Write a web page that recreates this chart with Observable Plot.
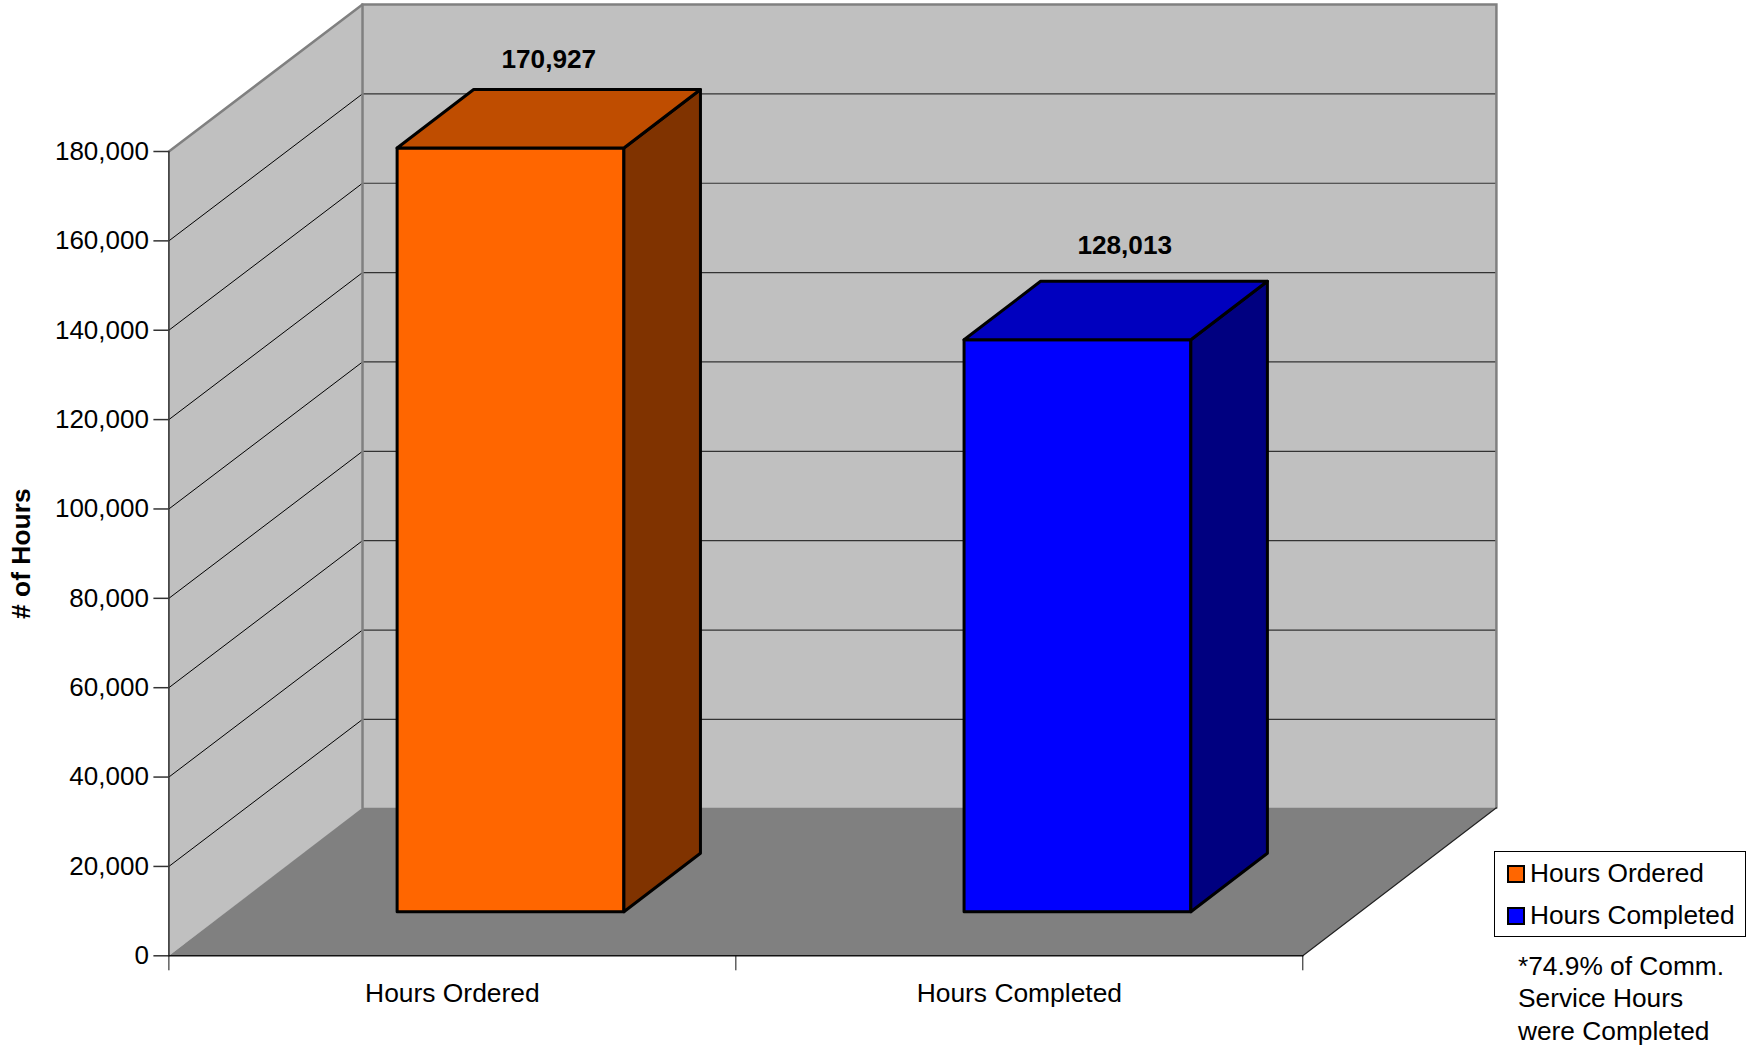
<!DOCTYPE html>
<html>
<head>
<meta charset="utf-8">
<script src="https://cdn.jsdelivr.net/npm/d3@7"></script>
<script src="https://cdn.jsdelivr.net/npm/@observablehq/plot@0.6"></script>
<style>
  html, body { margin: 0; padding: 0; background: #fff; }
  #chart { position: relative; width: 1747px; height: 1045px; overflow: hidden; font-family: "Liberation Sans", Arial, sans-serif; color: #000; }
  #chart svg { display: block; }
  #legend { position: absolute; left: 1494px; top: 851px; width: 250px; height: 84px; border: 1px solid #000; background: #fff; box-sizing: content-box; font-size: 26.3px; }
  .item { position: absolute; left: 12px; white-space: nowrap; line-height: 30px; height: 30px; }
  .item i { position: absolute; left: 0; top: 5px; width: 14px; height: 14px; border: 2px solid #000; }
  .item span { position: absolute; left: 23px; top: -2px; }
  #note { position: absolute; left: 1518px; top: 949.5px; font-size: 26.3px; line-height: 32.7px; white-space: nowrap; }
</style>
</head>
<body>
<div id="chart"></div>
<script>
const categories = ["Hours Ordered", "Hours Completed"];
const hours = [170927, 128013];
const frontColors = ["#FF6600", "#0000FF"];
const topColors = ["#BF4D00", "#0000BF"];
const sideColors = ["#803300", "#000080"];
const yTicks = [0, 20000, 40000, 60000, 80000, 100000, 120000, 140000, 160000, 180000];
const yGrid = yTicks.slice(1);
const noteLines = ["*74.9% of Comm.", "Service Hours", "were Completed"];

// Oblique projection: depth z in 0..1 shifts a point along x and y in data units.
const DX = 0.3415, DY = 33122, DY_WALL = 32900;
const YMAX = 180000;
const project = (x, v, z) => ({x: x + DX * z, y: v + DY * z});
const wall = (x, v, z) => ({x: x + DX * z, y: v + DY_WALL * z});
const BAR_X0 = 0.3009, BAR_W = 0.4, Z0 = 0.2976, Z1 = 0.693;

const face = (pts, fill, stroke, strokeWidth) =>
  Plot.line(pts, {x: "x", y: "y", fill, stroke, strokeWidth, curve: "linear-closed",
    strokeLinejoin: "round"});
const edge = (pts, stroke, strokeWidth) =>
  Plot.line(pts, {x: "x", y: "y", stroke, strokeWidth, strokeLinejoin: "miter", strokeMiterlimit: 4});

const barMarks = hours.flatMap((v, i) => {
  const x0 = i + BAR_X0, x1 = x0 + BAR_W;
  return [
    face([project(x0, 0, Z0), project(x1, 0, Z0), project(x1, v, Z0), project(x0, v, Z0)], frontColors[i], "#000", 3),
    face([project(x1, 0, Z0), project(x1, 0, Z1), project(x1, v, Z1), project(x1, v, Z0)], sideColors[i], "#000", 3),
    face([project(x0, v, Z0), project(x1, v, Z0), project(x1, v, Z1), project(x0, v, Z1)], topColors[i], "#000", 3)
  ];
});

const labelShift = [{dx: 0, dy: -21}, {dx: 9, dy: -27}];
const labelMarks = hours.map((v, i) => {
  const top = project(i + BAR_X0 + BAR_W / 2, v, Z1);
  top.x = i + BAR_X0 + BAR_W / 2 + DX * (Z0 + Z1) / 2;
  return Plot.text([v], {
    x: () => top.x, y: () => top.y, text: d3.format(","),
    fontWeight: "bold", fontSize: 26.2, lineAnchor: "bottom", textAnchor: "middle",
    dx: labelShift[i].dx, dy: labelShift[i].dy
  });
});

const svg = Plot.plot({
  width: 1747, height: 1045,
  marginLeft: 168.4, marginRight: 444.7, marginTop: 151, marginBottom: 89.7,
  style: {fontFamily: '"Liberation Sans", Arial, sans-serif', fontSize: "26px", background: "#fff", color: "#000"},
  x: {domain: [0, 2]},
  y: {domain: [0, YMAX]},
  marks: [
    // walls and floor
    face([wall(0, 0, 0), wall(0, YMAX, 0), wall(0, YMAX, 1), wall(0, 0, 1)], "#C0C0C0", "none", 0),
    face([wall(0, 0, 1), wall(2, 0, 1), wall(2, YMAX, 1), wall(0, YMAX, 1)], "#C0C0C0", "none", 0),
    Plot.link(yGrid, {x1: () => DX, y1: d => d + DY_WALL, x2: () => 2 + DX, y2: d => d + DY_WALL, stroke: "#333", strokeWidth: 1.2}),
    Plot.link(yGrid.slice(0, -1), {x1: () => 0, y1: d => d, x2: () => DX, y2: d => d + DY_WALL, stroke: "#000", strokeWidth: 1}),
    face([project(0, 0, 0), project(2, 0, 0), project(2, 0, 1), project(0, 0, 1)], "#808080", "none", 0),
    edge([project(0, 0, 1), wall(0, YMAX, 1), wall(2, YMAX, 1), project(2, 0, 1)], "#808080", 2.5),
    edge([wall(0, YMAX, 0), wall(0, YMAX, 1)], "#808080", 2.5),
    edge([project(2, 0, 0), project(2, 0, 1)], "#222", 1.2),
    edge([project(0, 0, 0), project(0, YMAX, 0)], "#333", 1.6),
    edge([project(0, 0, 0), project(2, 0, 0)], "#111", 1.6),
    ...barMarks,
    ...labelMarks,
    // axes
    Plot.axisY({ticks: yTicks, tickSize: 15, tickPadding: 5, tickFormat: d3.format(","), label: null,
      fontSize: 26, stroke: "#333", strokeWidth: 1.5}),
    Plot.axisX({ticks: [0, 1, 2], tickSize: 15, fill: "none", label: null, stroke: "#111", strokeWidth: 1}),
    Plot.axisX({ticks: [0.5, 1.5], tickSize: 0, tickPadding: 27, tickFormat: d => categories[Math.floor(d)],
      label: null, fontSize: 26.4, stroke: "none"}),
    Plot.text(["# of Hours"], {frameAnchor: "left", dx: -138.5, rotate: -90, fontWeight: "bold", fontSize: 26.4,
      textAnchor: "middle", lineAnchor: "bottom"})
  ]
});

const chart = document.getElementById("chart");
chart.appendChild(svg);

const legend = document.createElement("div");
legend.id = "legend";
categories.forEach((c, i) => {
  const row = document.createElement("div");
  row.className = "item";
  row.style.top = (8 + i * 42) + "px";
  const sw = document.createElement("i");
  sw.style.background = frontColors[i];
  const label = document.createElement("span");
  label.textContent = c;
  row.append(sw, label);
  legend.appendChild(row);
});
chart.appendChild(legend);

const note = document.createElement("div");
note.id = "note";
note.innerHTML = noteLines.join("<br>");
chart.appendChild(note);
</script>
</body>
</html>
